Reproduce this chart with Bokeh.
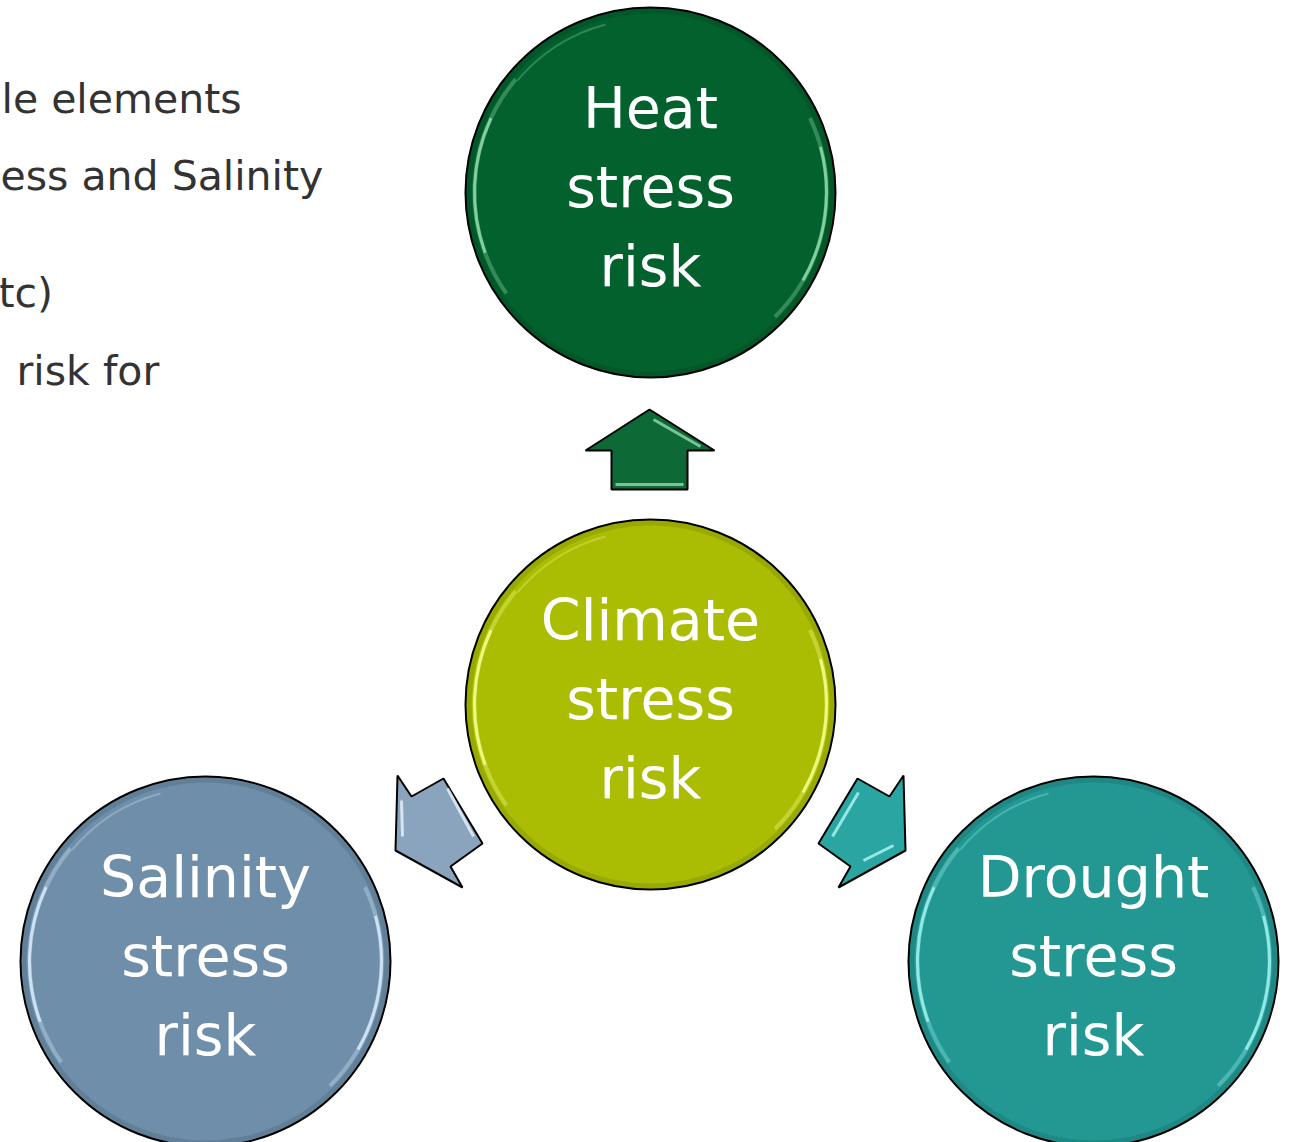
import math
from bokeh.plotting import figure
from bokeh.models import Range1d
from bokeh.core.properties import value
from bokeh.embed import file_html
from bokeh.resources import INLINE

# ---- data -------------------------------------------------------------
node_names = ["Heat", "Climate", "Salinity", "Drought"]
node_line1 = ["Heat", "Climate", "Salinity", "Drought"]
node_line2 = ["stress", "stress", "stress", "stress"]
node_line3 = ["risk", "risk", "risk", "risk"]
node_x = [650, 650, 205, 1093]
node_y = [192, 704, 961, 961]
node_r = [185, 185, 185, 185]
node_fill = ["#03612E", "#AABD02", "#6E8EAA", "#239893"]
node_hl = ["#8FD9AC", "#F4FF8C", "#D6EAFA", "#9CF2EE"]

arrow_up_x = [649, 714, 687, 687, 611, 611, 585]
arrow_up_y = [409, 450, 450, 489, 489, 450, 450]
arrow_left_x = [397, 411, 443, 482, 450, 462, 395]
arrow_left_y = [775, 796, 778, 843, 866, 887, 850]
arrow_right_x = [903, 889, 857, 818, 850, 838, 905]
arrow_right_y = [775, 796, 778, 843, 866, 887, 850]
arrow_fill = ["#0D6A36", "#89A4BC", "#2AA5A1"]

bevel_xs = [[653, 700], [615, 683], [447, 473], [401, 402], [858, 832], [863, 893]]
bevel_ys = [[419, 446], [484, 484], [788, 836], [800, 836], [792, 836], [860, 845]]
bevel_col = ["#9FE0B8", "#9FE0B8", "#F2F8FF", "#F2F8FF", "#B8FFFB", "#B8FFFB"]

side_text = ["le elements", "ess and Salinity", "tc)", "risk for"]
side_left = [1, 0, -2, 16]
side_base = [113, 190, 307, 385]

# ---- figure -----------------------------------------------------------
W, H = 1289, 1142
p = figure(width=W, height=H, x_range=Range1d(0, W), y_range=Range1d(H, 0),
           x_axis_type=None, y_axis_type=None, toolbar_location=None,
           output_backend="svg", min_border=0, min_border_left=0, min_border_right=0,
           min_border_top=0, min_border_bottom=0)
p.outline_line_color = None
p.grid.visible = False
p.background_fill_color = "white"
p.border_fill_color = "white"

FONT = value("DejaVu Sans")
side_fs = 41
p.text(x=side_left, y=[b - 0.36 * side_fs for b in side_base], text=side_text,
       text_align="left", text_baseline="alphabetic", text_font=FONT,
       text_font_size=f"{side_fs}px", text_color="#333333")

# circles
p.circle(x=node_x, y=node_y, radius=node_r, fill_color=node_fill,
         line_color="black", line_width=2)
p.annulus(x=node_x, y=node_y, inner_radius=[r - 6 for r in node_r],
          outer_radius=[r - 1 for r in node_r], fill_color="black",
          fill_alpha=0.10, line_color=None)
# glossy highlights (soft outer span + brighter core)
r_hl = [r - 9 for r in node_r]
p.arc(x=node_x, y=node_y, radius=r_hl, start_angle=math.radians(140),
      end_angle=math.radians(215), line_color=node_hl, line_width=4, line_alpha=0.35)
p.arc(x=node_x, y=node_y, radius=r_hl, start_angle=math.radians(155),
      end_angle=math.radians(200), line_color=node_hl, line_width=3, line_alpha=0.85)
p.arc(x=node_x, y=node_y, radius=r_hl, start_angle=math.radians(-45),
      end_angle=math.radians(25), line_color=node_hl, line_width=4, line_alpha=0.35)
p.arc(x=node_x, y=node_y, radius=r_hl, start_angle=math.radians(-30),
      end_angle=math.radians(15), line_color=node_hl, line_width=3, line_alpha=0.85)
p.arc(x=node_x, y=node_y, radius=[r - 11 for r in node_r],
      start_angle=math.radians(105), end_angle=math.radians(140),
      line_color=node_hl, line_width=2, line_alpha=0.3)

# arrows
p.patches(xs=[arrow_up_x, arrow_left_x, arrow_right_x],
          ys=[arrow_up_y, arrow_left_y, arrow_right_y],
          fill_color=arrow_fill, line_color="black", line_width=2)
p.multi_line(xs=bevel_xs, ys=bevel_ys, line_color=bevel_col, line_width=3,
             line_alpha=0.75)

# labels
fs = 57
for dy, lines in zip([-62, 17, 96], [node_line1, node_line2, node_line3]):
    p.text(x=node_x, y=[y + dy - 0.40 * fs for y in node_y], text=lines,
           text_align="center", text_baseline="alphabetic", text_font=FONT,
           text_font_size=f"{fs}px", text_color="white")

open("out.html", "w").write(file_html(p, INLINE))
